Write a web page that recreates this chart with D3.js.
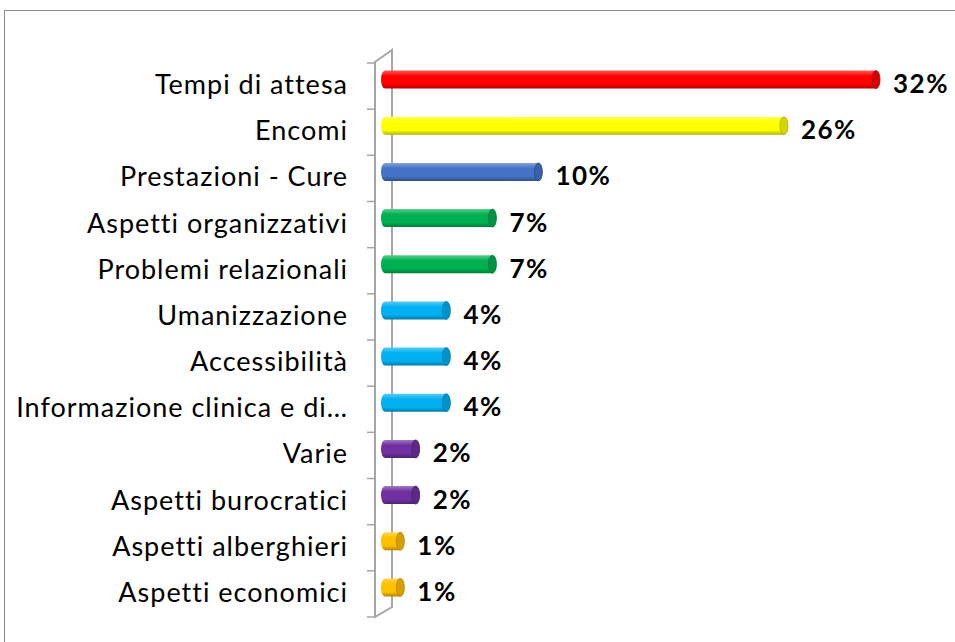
<!DOCTYPE html>
<html><head><meta charset="utf-8">
<script src="https://cdn.jsdelivr.net/npm/d3@7"></script>
<style>html,body{margin:0;padding:0;background:#fff;overflow:hidden}</style>
</head><body>
<svg id="c" width="955" height="642"></svg>
<script>
const categories = ["Tempi di attesa","Encomi","Prestazioni - Cure","Aspetti organizzativi","Problemi relazionali","Umanizzazione","Accessibilità","Informazione clinica e di…","Varie","Aspetti burocratici","Aspetti alberghieri","Aspetti economici"];
const values = [32,26,10,7,7,4,4,4,2,2,1,1];
const labels = ["32%","26%","10%","7%","7%","4%","4%","4%","2%","2%","1%","1%"];
const colors = ["#FF0000","#FFFF00","#4472C4","#00B050","#00B050","#00B0F0","#00B0F0","#00B0F0","#7030A0","#7030A0","#FFC000","#FFC000"];

const svg = d3.select("#c");
const font = "Lato, 'Open Sans', sans-serif";

// chart border
svg.append("rect").attr("x",4.5).attr("y",10.5).attr("width",1200).attr("height",1200)
  .attr("fill","#fff").attr("stroke","#8c8c8c").attr("stroke-width",1);

const y = d3.scaleBand().domain(categories).range([63,617]).padding(0);
const x = d3.scaleLinear().domain([0,32]).range([385,876]);

const defs = svg.append("defs");
colors.forEach((c,i)=>{
  const base = d3.color(c);
  const g = defs.append("linearGradient").attr("id","g"+i).attr("x1",0).attr("y1",0).attr("x2",0).attr("y2",1);
  g.append("stop").attr("offset","0%").attr("stop-color",d3.interpolateRgb(c,"#fff")(0.35));
  g.append("stop").attr("offset","30%").attr("stop-color",c);
  g.append("stop").attr("offset","75%").attr("stop-color",c);
  g.append("stop").attr("offset","100%").attr("stop-color",base.darker(1).formatHex());
});

// axis wall
const wall = svg.append("g").attr("stroke","#a6a6a6").attr("stroke-width",2).attr("fill","none");
const [r0,r1] = y.range();
wall.append("path").attr("d",`M375,${r0-1}L392,${r0-13}L392,${r1-10}L375,${r1}Z`);
const tickYs = categories.map(c=>y(c)).concat([r1]);
wall.selectAll("line.t").data(tickYs).join("line").attr("class","t")
  .attr("x1",367).attr("x2",375).attr("y1",d=>d).attr("y2",d=>d).attr("stroke-width",1.5);

// bars
const h = 18, rx = 4, off = -6.5;
const bars = svg.append("g");
categories.forEach((c,i)=>{
  const cy = y(c)+y.bandwidth()/2+off;
  const x0 = 381, x1 = x(values[i]);
  const col = d3.color(colors[i]);
  const gb = bars.append("g");
  gb.append("path")
    .attr("d",`M${x0+rx},${cy-h/2}L${x1},${cy-h/2}L${x1},${cy+h/2}L${x0+rx},${cy+h/2}A${rx},${h/2} 0 0 1 ${x0+rx},${cy-h/2}Z`)
    .attr("fill",`url(#g${i})`);
  gb.append("ellipse").attr("cx",x1).attr("cy",cy).attr("rx",rx).attr("ry",h/2)
    .attr("fill",col.darker(0.5).formatHex()).attr("stroke",col.darker(1.1).formatHex()).attr("stroke-width",0.8);
});

// category labels
svg.append("g").selectAll("text").data(categories).join("text")
  .attr("x",348).attr("y",d=>y(d)+y.bandwidth()/2+8)
  .attr("text-anchor","end").attr("font-family",font).attr("font-size",27)
  .attr("letter-spacing","1px").attr("fill","#000")
  .text(d=>d);

// value labels
svg.append("g").selectAll("text").data(labels).join("text")
  .attr("x",(d,i)=>x(values[i])+17).attr("y",(d,i)=>y(categories[i])+y.bandwidth()/2+7)
  .attr("font-family",font).attr("font-weight","bold").attr("font-size",26)
  .attr("letter-spacing","1.5px").attr("fill","#000")
  .text(d=>d);
</script>
</body></html>
